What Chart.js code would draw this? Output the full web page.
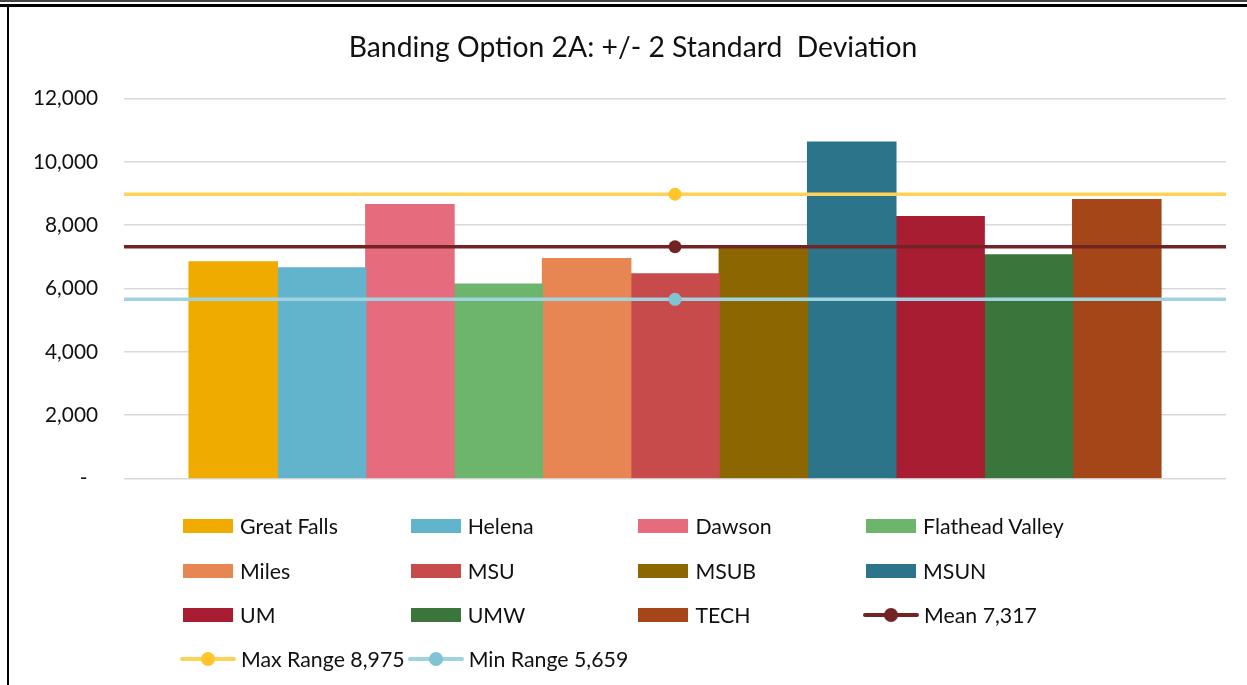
<!DOCTYPE html>
<html>
<head>
<meta charset="utf-8">
<title>Banding Option 2A</title>
<script src="https://cdn.jsdelivr.net/npm/chart.js@4.4.1/dist/chart.umd.min.js"></script>
<style>
    html, body {
        margin: 0;
        padding: 0;
        width: 1247px;
        height: 685px;
        overflow: hidden;
        background: #fff;
        font-family: 'Lato', 'Open Sans', sans-serif;
    }
    .frame-top1 { position: absolute; left: 0; top: 0; width: 1247px; height: 2px; background: #444; }
    .frame-top2 { position: absolute; left: 0; top: 4px; width: 1247px; height: 3px; background: #000; }
    .frame-left { position: absolute; left: 7px; top: 4px; width: 2px; height: 681px; background: #000; }
    #chartBox { position: absolute; left: 9px; top: 7px; width: 1248px; height: 510px; }
    #legend {
        position: absolute;
        left: 183px;
        top: 504px;
        display: grid;
        grid-template-columns: repeat(4, 227.7px);
        grid-auto-rows: 44.4px;
        align-items: center;
        font-size: 21.3px;
        color: #111;
    }
    .legend-item { display: flex; align-items: center; white-space: nowrap; }
    .sw-bar { width: 50px; height: 14px; margin-right: 7px; }
    .sw-line { position: relative; width: 56px; height: 14px; margin-left: -3px; margin-right: 5px; }
    .sw-line .ln { position: absolute; left: 0; right: 0; top: 5px; height: 4px; border-radius: 2px; }
    .sw-line .dot { position: absolute; left: 21px; top: 0; width: 14px; height: 14px; border-radius: 50%; }
</style>
</head>
<body>
<div class="frame-top1"></div>
<div class="frame-top2"></div>
<div class="frame-left"></div>
<div id="chartBox"><canvas id="bandingChart" width="1248" height="510"></canvas></div>
<div id="legend"></div>

<script>
// campuses (one bar series each)
const campuses = ['Great Falls', 'Helena', 'Dawson', 'Flathead Valley', 'Miles', 'MSU',
                  'MSUB', 'MSUN', 'UM', 'UMW', 'TECH'];
const campusValues = [6840, 6650, 8650, 6140, 6940, 6460, 7280, 10620, 8270, 7060, 8810];
const campusColors = ['#F0AB00', '#62B3CC', '#E66B7D', '#6DB56D', '#E78652', '#C64B4A',
                      '#8C6600', '#2C7489', '#A91D33', '#3A753B', '#A44618'];

// band lines
const bandNames = ['Mean', 'Max Range', 'Min Range'];
const bandValues = [7317, 8975, 5659];
const bandLineColors = ['#722424', '#FFD257', '#9FD3DF'];
const bandDotColors = ['#722424', '#FFC52A', '#7FC3D5'];

// y axis
const yMin = 0;
const yMax = 12000;
const yStep = 2000;

// x positions: bar group sits in the middle, band lines run edge to edge
const xSpan = [0, 1, 2];
const xGroup = 1;

const chartTitle = 'Banding Option 2A: +/- 2 Standard  Deviation';

const fmt = v => v.toLocaleString('en-US');

const bandingChart = {
    chartInstance: null,

    /**
     * build datasets: bars in legend order, band lines drawn on top
     */
    buildDatasets() {
        const datasets = [];
        campuses.forEach((name, i) => {
            datasets.push({
                type: 'bar',
                label: name,
                data: [{ x: xGroup, y: campusValues[i] }],
                backgroundColor: campusColors[i],
                borderWidth: 0,
                inflateAmount: 0.6,
                categoryPercentage: 0.882,
                barPercentage: 1,
                order: 2
            });
        });
        bandNames.forEach((name, i) => {
            const v = bandValues[i];
            datasets.push({
                type: 'line',
                label: name + ' ' + fmt(v),
                data: xSpan.map(x => ({ x: x, y: v })),
                borderColor: bandLineColors[i],
                borderWidth: 3.5,
                backgroundColor: bandDotColors[i],
                pointBackgroundColor: bandDotColors[i],
                pointBorderWidth: 0,
                pointRadius: xSpan.map(x => x === xGroup ? 6.5 : 0),
                fill: false,
                tension: 0,
                order: 1
            });
        });
        return datasets;
    },

    initChart() {
        const ctx = document.getElementById('bandingChart');
        this.chartInstance = new Chart(ctx, {
            type: 'bar',
            data: {
                datasets: this.buildDatasets()
            },
            options: {
                responsive: false,
                animation: false,
                layout: {
                    padding: { left: 0, right: 0, top: 0, bottom: 11.5 }
                },
                plugins: {
                    legend: { display: false },
                    tooltip: { enabled: false },
                    title: {
                        display: true,
                        text: chartTitle,
                        color: '#111',
                        font: { family: 'Lato', size: 28.3, weight: 'normal' },
                        padding: { top: 23.5, bottom: 34 }
                    }
                },
                scales: {
                    x: {
                        type: 'linear',
                        display: false,
                        offset: false,
                        grid: { offset: false },
                        min: xSpan[0],
                        max: xSpan[xSpan.length - 1],
                        ticks: { stepSize: xSpan[xSpan.length - 1] - xSpan[0] }
                    },
                    y: {
                        min: yMin,
                        max: yMax,
                        afterFit: scale => { scale.width = 115; },
                        border: { display: false },
                        grid: {
                            color: '#D9D9D9',
                            lineWidth: 1.5,
                            drawTicks: false
                        },
                        ticks: {
                            stepSize: yStep,
                            padding: 26,
                            color: '#111',
                            font: { family: 'Lato', size: 20.8 },
                            callback: value => value === 0 ? '-  ' : fmt(value)
                        }
                    },
                    // empty right axis, only keeps the plot off the right edge
                    yPad: {
                        position: 'right',
                        display: true,
                        min: yMin,
                        max: yMax,
                        afterFit: scale => { scale.width = 31; },
                        border: { display: false },
                        grid: { display: false },
                        ticks: { display: false }
                    }
                }
            }
        });
    },

    /**
     * legend laid out in fixed columns like the spreadsheet one
     */
    buildLegend() {
        const box = document.getElementById('legend');
        const items = [];
        campuses.forEach((name, i) => {
            items.push(`<div class="legend-item"><span class="sw-bar" style="background:${campusColors[i]}"></span>${name}</div>`);
        });
        bandNames.forEach((name, i) => {
            items.push(`<div class="legend-item"><span class="sw-line"><span class="ln" style="background:${bandLineColors[i]}"></span>` +
                `<span class="dot" style="background:${bandDotColors[i]}"></span></span>${name} ${fmt(bandValues[i])}</div>`);
        });
        box.innerHTML = items.join('');
    }
};

bandingChart.initChart();
bandingChart.buildLegend();
</script>
</body>
</html>
